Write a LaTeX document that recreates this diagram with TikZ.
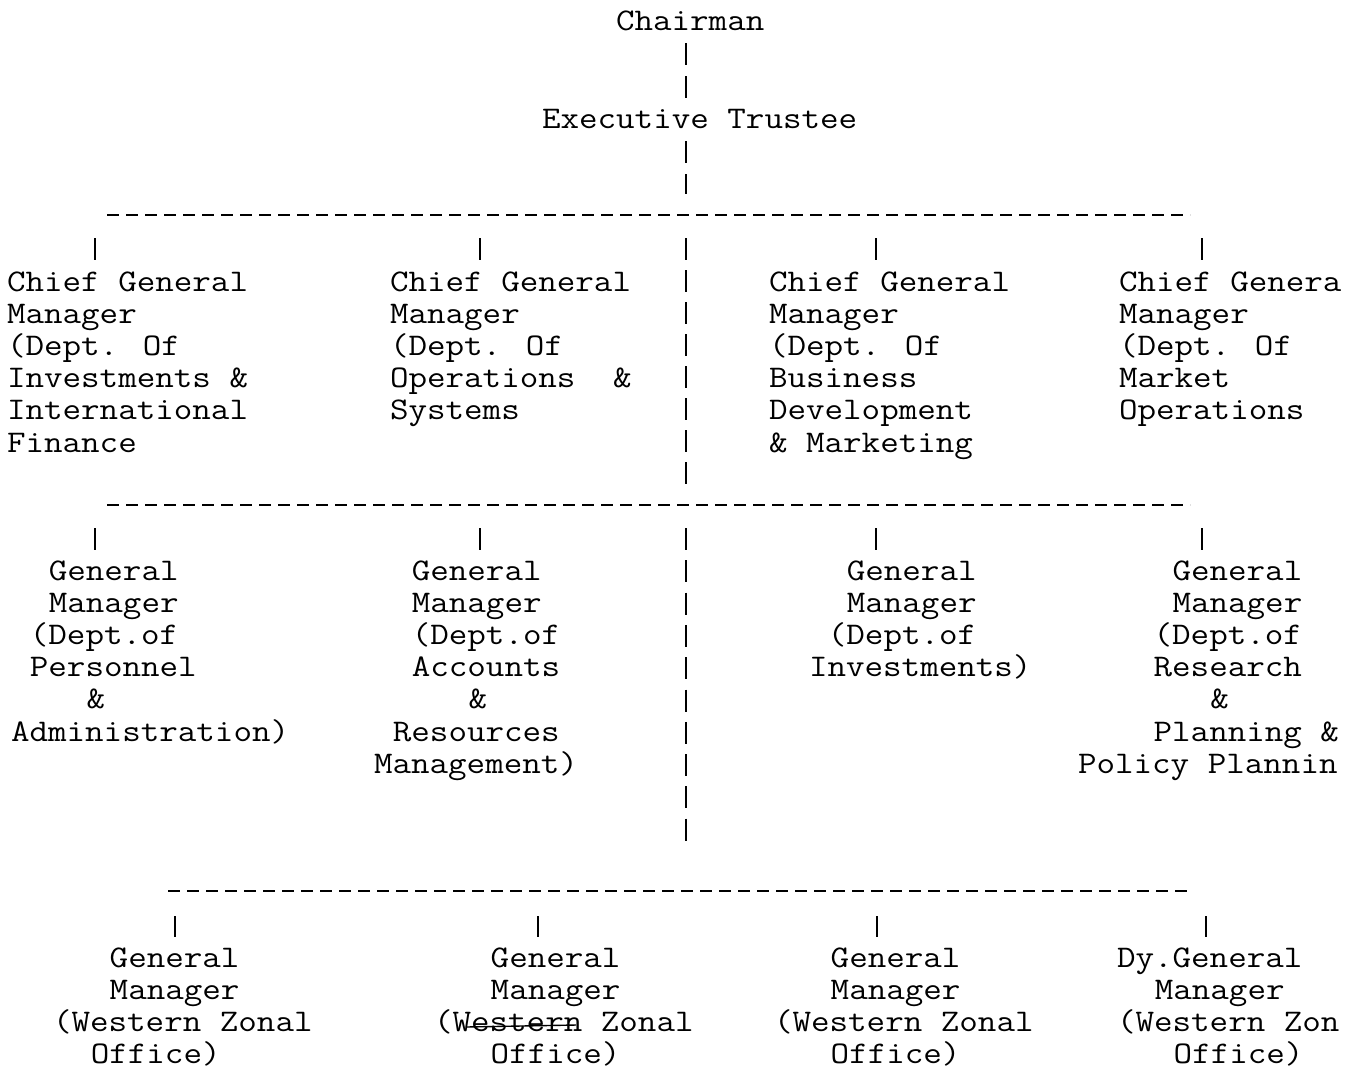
\documentclass[tikz,border=0pt]{standalone}
\usepackage{fontspec}
\usepackage{graphicx}
\newlength\mycw
\setlength\mycw{16.5375pt}
\newcommand\ind[1]{\hspace*{#1\mycw}}
\newcommand\fst{\rule{0pt}{28pt}}
\newcommand\tb[1]{\scalebox{1.143}[1]{\begin{tabular}[t]{@{}l@{}}\fst #1\end{tabular}}}
\begin{document}
\begin{tikzpicture}[x=1pt,y=-1pt,
  txt/.style={anchor=north west, inner sep=0pt, outer sep=0pt,
    font=\ttfamily\fontsize{31.5}{32.2}\selectfont},
  vbar/.style={line width=1.6pt, dash pattern=on 22pt off 10pt},
  vbarA/.style={line width=1.6pt, dash pattern=on 22pt off 11pt},
  vbarB/.style={line width=1.6pt, dash pattern=on 22pt off 10.3pt},
  drop/.style={line width=1.6pt},
  hbus/.style={line width=2.2pt, dash pattern=on 12pt off 7pt}]
\fill[white] (0,0) rectangle (1359,1069);
\useasboundingbox (0,0) rectangle (1359,1069);

% --- top ---
\node[txt] (chair) at (616,2) {\tb{Chairman}};
\node[txt] (exec) at (542,100) {\tb{Executive Trustee}};

% --- chief general managers (baseline 291) ---
\node[txt] (cgm1) at (7,263) {\tb{Chief General\\Manager\\(Dept. Of\\Investments \&\\International\\Finance}};
\node[txt] (cgm2) at (390,263) {\tb{Chief General\\Manager\\(Dept. Of\\Operations\ind{2}\&\\Systems}};
\node[txt] (cgm3) at (769,263) {\tb{Chief General\\Manager\\(Dept. Of\\Business\\Development\\\& Marketing}};
\node[txt] (cgm4) at (1119,263) {\tb{Chief Genera\\Manager\\(Dept. Of\\Market\\Operations}};

% --- general managers (baseline 580) ---
\node[txt] (gm1) at (11,552) {\tb{\ind{2}General\\\ind{2}Manager\\\ind{1}(Dept.of\\\ind{1}Personnel\\\ind{4}\&\\Administration)}};
\node[txt] (gm2) at (374,552) {\tb{\ind{2}General\\\ind{2}Manager\\\ind{2}(Dept.of\\\ind{2}Accounts\\\ind{5}\&\\\ind{1}Resources\\Management)}};
\node[txt] (gm3) at (809,552) {\tb{\ind{2}General\\\ind{2}Manager\\\ind{1}(Dept.of\\Investments)}};
\node[txt] (gm4) at (1078,552) {\tb{\ind{5}General\\\ind{5}Manager\\\ind{4}(Dept.of\\\ind{4}Research\\\ind{7}\&\\\ind{4}Planning \&\\Policy Plannin}};

% --- zonal offices (baseline 967) ---
\node[txt] (zo1) at (53,939) {\tb{\ind{3}General\\\ind{3}Manager\\(Western Zonal\\\ind{2}Office)}};
\node[txt] (zo2) at (434,939) {\tb{\ind{3}General\\\ind{3}Manager\\(Western Zonal\\\ind{3}Office)}};
\node[txt] (zo3) at (774,939) {\tb{\ind{3}General\\\ind{3}Manager\\(Western Zonal\\\ind{3}Office)}};
\node[txt] (zo4) at (1117,939) {\tb{Dy.General\\\ind{2}Manager\\(Western Zon\\\ind{3}Office)}};

% --- connector coordinates ---
\coordinate (s0a) at (686,43);  \coordinate (s0b) at (686,98);
\coordinate (s1a) at (686,141); \coordinate (s1b) at (686,194);
\coordinate (b1l) at (107,215); \coordinate (b1r) at (1190,215);
\coordinate (s2a) at (686,238); \coordinate (s2b) at (686,485);
\coordinate (b2l) at (107,505); \coordinate (b2r) at (1190,505);
\coordinate (s3a) at (686,528); \coordinate (s3b) at (686,841);
\coordinate (b3l) at (168,891); \coordinate (b3r) at (1190,891);

% chairman -> executive trustee
\draw[vbarA] (s0a) -- (s0b);
% executive trustee -> bus 1
\draw[vbarA] (s1a) -- (s1b);
\draw[hbus] (b1l) -- (b1r);
\draw[vbar] (s2a) -- (s2b);
\foreach \x/\n in {95/cgm1,480/cgm2,876/cgm3,1202/cgm4}
  \draw[drop] (\x,238) -- (\x,260);
% bus 2
\draw[hbus] (b2l) -- (b2r);
\draw[vbarB] (s3a) -- (s3b);
\foreach \x/\n in {95/gm1,480/gm2,876/gm3,1202/gm4}
  \draw[drop] (\x,528) -- (\x,550);
% bus 3
\draw[hbus] (b3l) -- (b3r);
\foreach \x/\n in {175/zo1,538/zo2,877/zo3,1206/zo4}
  \draw[drop] (\x,916) -- (\x,937);

% strike-out on second zonal office
\draw[line width=1.4pt] (466,1027) -- (576,1025);
\end{tikzpicture}
\end{document}
